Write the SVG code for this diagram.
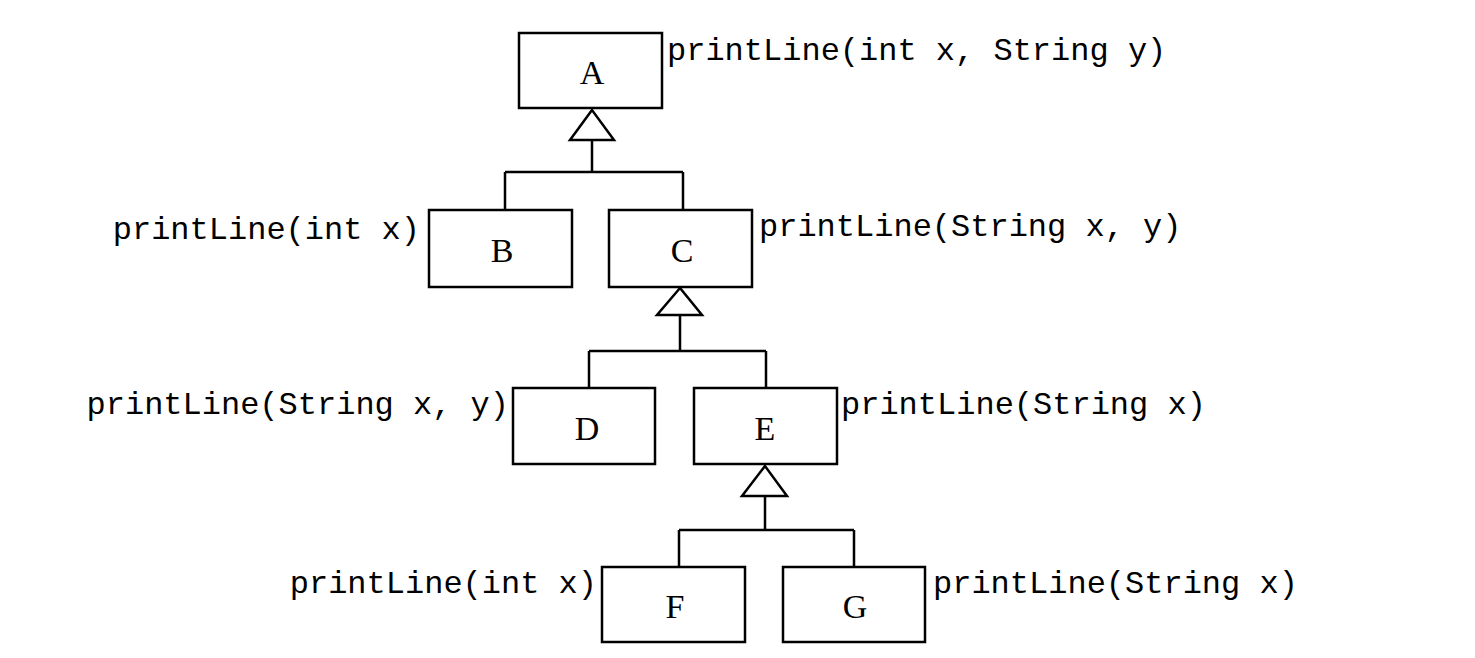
<svg xmlns="http://www.w3.org/2000/svg" width="1475" height="658" viewBox="0 0 1475 658">
<style>
.box{fill:#fff;stroke:#000;stroke-width:2.5}
.ln{fill:none;stroke:#000;stroke-width:2.5}
.tri{fill:#fff;stroke:#000;stroke-width:2.5;stroke-linejoin:miter}
.nm{font-family:"Liberation Serif","Times New Roman",serif;font-size:34px;text-anchor:middle;fill:#000}
.lb{font-family:"Liberation Mono","Courier New",monospace;font-size:32px;fill:#000}
.r{text-anchor:end}
</style>
<rect width="1475" height="658" fill="#fff"/>
<g id="connectors">
<path class="ln" d="M592,140 V172 M505,172 H683 M505,172 V210 M683,172 V210"/>
<polygon class="tri" points="592,110 570,140 614,140"/>
<path class="ln" d="M680,315 V351 M589,351 H766 M589,351 V388 M766,351 V388"/>
<polygon class="tri" points="680,288 657,315 702,315"/>
<path class="ln" d="M765,496 V530 M679,530 H854 M679,530 V567 M854,530 V567"/>
<polygon class="tri" points="765,466 742,496 787,496"/>
</g>
<g id="A"><rect class="box" x="519" y="33" width="143" height="75"/><text class="nm" x="592" y="84">A</text><text class="lb" x="667" y="60">printLine(int x, String y)</text></g>
<g id="B"><rect class="box" x="429" y="210" width="143" height="77"/><text class="nm" x="502" y="262">B</text><text class="lb r" x="420" y="239">printLine(int x)</text></g>
<g id="C"><rect class="box" x="609" y="210" width="143" height="77"/><text class="nm" x="682" y="262">C</text><text class="lb" x="759" y="236">printLine(String x, y)</text></g>
<g id="D"><rect class="box" x="513" y="388" width="142" height="76"/><text class="nm" x="587" y="440">D</text><text class="lb r" x="509" y="414">printLine(String x, y)</text></g>
<g id="E"><rect class="box" x="694" y="388" width="143" height="76"/><text class="nm" x="765" y="440">E</text><text class="lb" x="841" y="414">printLine(String x)</text></g>
<g id="F"><rect class="box" x="602" y="567" width="143" height="75"/><text class="nm" x="675" y="618">F</text><text class="lb r" x="597" y="593">printLine(int x)</text></g>
<g id="G"><rect class="box" x="783" y="567" width="142" height="75"/><text class="nm" x="855" y="618">G</text><text class="lb" x="933" y="593">printLine(String x)</text></g>
</svg>
